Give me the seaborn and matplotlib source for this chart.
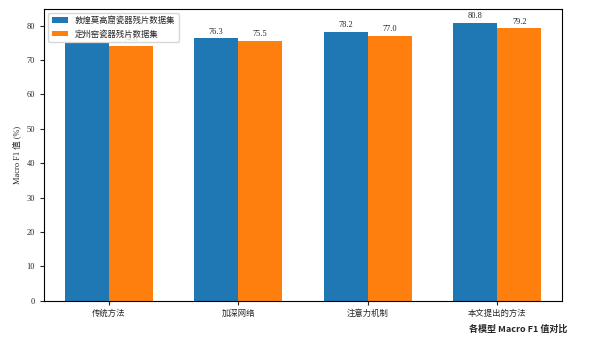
import matplotlib
matplotlib.use("Agg")
import matplotlib.pyplot as plt
import seaborn as sns
import pandas as pd

categories = ["传统方法", "加深网络", "注意力机制", "本文提出的方法"]
series_names = ["敦煌莫高窟瓷器残片数据集", "定州窑瓷器残片数据集"]
values_a = [75.0, 76.3, 78.2, 80.8]
values_b = [74.0, 75.5, 77.0, 79.2]

sns.set_style("white")
plt.rcParams['font.family'] = ['Liberation Serif', 'Noto Sans CJK SC', 'DejaVu Sans']
plt.rcParams['axes.unicode_minus'] = False

df = pd.DataFrame({
    "方法": categories * 2,
    "数据集": [series_names[0]] * 4 + [series_names[1]] * 4,
    "值": values_a + values_b,
})

fig = plt.figure(figsize=(5.89, 3.38), dpi=100)
ax = fig.add_axes([44/589, 1 - 300.7/338, (562-44)/589, (300.7-8.7)/338])
sns.barplot(data=df, x="方法", y="值", hue="数据集", hue_order=series_names,
            palette=["#1f77b4", "#ff7f0e"], width=0.68, saturation=1,
            linewidth=0, edgecolor="none", ax=ax)

for c in ax.containers:
    ax.bar_label(c, fmt="%.1f", padding=2, fontsize=6)

ax.set_xlabel("")
ax.set_ylabel("Macro F1 值 (%)", fontsize=6)
ax.tick_params(axis="both", labelsize=6, length=3, width=0.8, left=True, bottom=True)
ax.set_yticks(range(0, 90, 10))
ax.set_ylim(0, 84.9)
for s in ax.spines.values():
    s.set_linewidth(0.8)
    s.set_color("black")
leg = ax.legend(loc="upper left", frameon=True, title=None,
                prop={'family': ['Noto Sans CJK SC'], 'size': 6})
leg.set_zorder(10)

fig.text(0.963, 0.027, "各模型 Macro F1 值对比", ha="right", va="center",
         fontsize=6.5, fontweight="bold", family=['Noto Sans CJK SC'])

fig.savefig("out.png", dpi=100)
